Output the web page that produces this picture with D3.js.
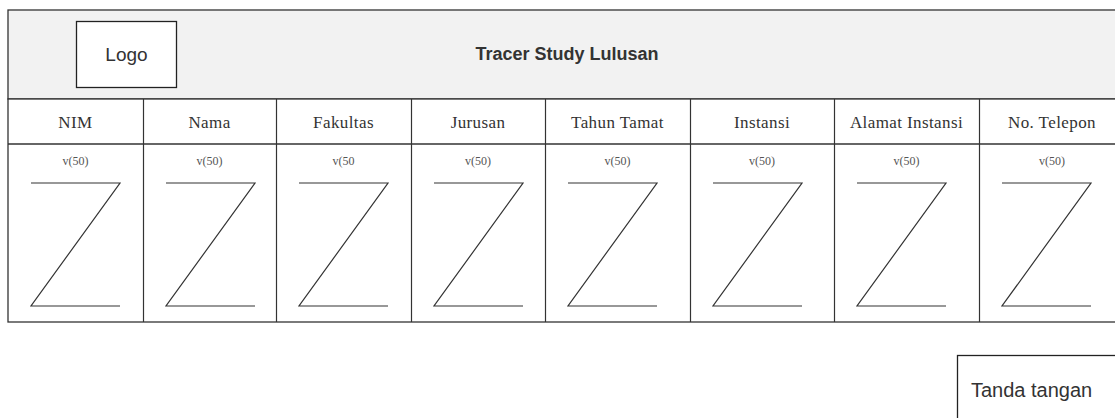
<!DOCTYPE html>
<html>
<head>
<meta charset="utf-8">
<script src="https://cdn.jsdelivr.net/npm/d3@7/dist/d3.min.js"></script>
<style>
  html, body { margin: 0; padding: 0; background: #fff; }
  svg { display: block; }
</style>
</head>
<body>
<svg id="chart" width="1115" height="418"></svg>
<script>
// ---- data ----
const title = "Tracer Study Lulusan";
const logoLabel = "Logo";
const signatureLabel = "Tanda tangan";
const columns = ["NIM", "Nama", "Fakultas", "Jurusan", "Tahun Tamat", "Instansi", "Alamat Instansi", "No. Telepon"];
const cellLabels = ["v(50)", "v(50)", "v(50", "v(50)", "v(50)", "v(50)", "v(50)", "v(50)"];

// ---- layout ----
const colEdges = [8, 143, 276, 411, 545, 690, 834, 979, 1125];
const tableTop = 10, headerBottom = 99, colHeadBottom = 144, tableBottom = 322;
const stroke = "#333";

const svg = d3.select("#chart");

const xLeft = d3.scaleOrdinal(columns, colEdges.slice(0, -1));
const xRight = d3.scaleOrdinal(columns, colEdges.slice(1));
const cx = c => (xLeft(c) + xRight(c)) / 2;

// header band
svg.append("rect")
  .attr("x", 8).attr("y", tableTop)
  .attr("width", 1125 - 8).attr("height", headerBottom - tableTop)
  .attr("fill", "#f2f2f2").attr("stroke", stroke).attr("stroke-width", 1.3);

// logo box
svg.append("rect")
  .attr("x", 76.5).attr("y", 21.5).attr("width", 100).attr("height", 66)
  .attr("fill", "#fff").attr("stroke", "#222").attr("stroke-width", 1.3);
svg.append("text")
  .attr("x", 126.5).attr("y", 54).attr("dy", "0.35em")
  .attr("text-anchor", "middle")
  .attr("font-family", "Liberation Sans, Arial, sans-serif")
  .attr("font-size", 19).attr("fill", "#333")
  .text(logoLabel);

// title
svg.append("text")
  .attr("x", 567).attr("y", 54).attr("dy", "0.35em")
  .attr("text-anchor", "middle")
  .attr("font-family", "Liberation Sans, Arial, sans-serif")
  .attr("font-weight", "bold")
  .attr("font-size", 18).attr("fill", "#333")
  .text(title);

// table body
svg.append("rect")
  .attr("x", 8).attr("y", headerBottom)
  .attr("width", 1125 - 8).attr("height", tableBottom - headerBottom)
  .attr("fill", "#fff").attr("stroke", stroke).attr("stroke-width", 1.3);
svg.append("line")
  .attr("x1", 8).attr("x2", 1125)
  .attr("y1", colHeadBottom).attr("y2", colHeadBottom)
  .attr("stroke", stroke).attr("stroke-width", 1.3);

// column dividers
svg.selectAll("line.div")
  .data(columns.slice(1))
  .join("line")
  .attr("class", "div")
  .attr("x1", d => xLeft(d) + 0.5).attr("x2", d => xLeft(d) + 0.5)
  .attr("y1", headerBottom).attr("y2", tableBottom)
  .attr("stroke", stroke).attr("stroke-width", 1.2);

// column headers
svg.selectAll("text.head")
  .data(columns)
  .join("text")
  .attr("class", "head")
  .attr("x", d => cx(d)).attr("y", 122).attr("dy", "0.35em")
  .attr("text-anchor", "middle")
  .attr("font-family", "Liberation Serif, Times New Roman, serif")
  .attr("font-size", 17).attr("letter-spacing", 0.4)
  .attr("fill", "#333")
  .text(d => d);

// cell labels
svg.selectAll("text.cell")
  .data(columns)
  .join("text")
  .attr("class", "cell")
  .attr("x", d => cx(d)).attr("y", 161).attr("dy", "0.35em")
  .attr("text-anchor", "middle")
  .attr("font-family", "Liberation Serif, Times New Roman, serif")
  .attr("font-size", 12)
  .attr("fill", "#555")
  .text((d, i) => cellLabels[i]);

// Z glyphs
const zLine = d3.line();
svg.selectAll("path.z")
  .data(columns)
  .join("path")
  .attr("class", "z")
  .attr("d", d => {
    const l = xLeft(d) + 23, r = l + 89, t = 183, b = 306;
    return zLine([[l, t], [r, t], [l, b], [r, b]]);
  })
  .attr("fill", "none").attr("stroke", "#333").attr("stroke-width", 1.2);

// signature box
svg.append("rect")
  .attr("x", 957.5).attr("y", 355.5).attr("width", 200).attr("height", 100)
  .attr("fill", "#fff").attr("stroke", "#222").attr("stroke-width", 1.3);
svg.append("text")
  .attr("x", 971).attr("y", 390).attr("dy", "0.35em")
  .attr("font-family", "Liberation Sans, Arial, sans-serif")
  .attr("font-size", 20).attr("fill", "#333")
  .text(signatureLabel);
</script>
</body>
</html>
